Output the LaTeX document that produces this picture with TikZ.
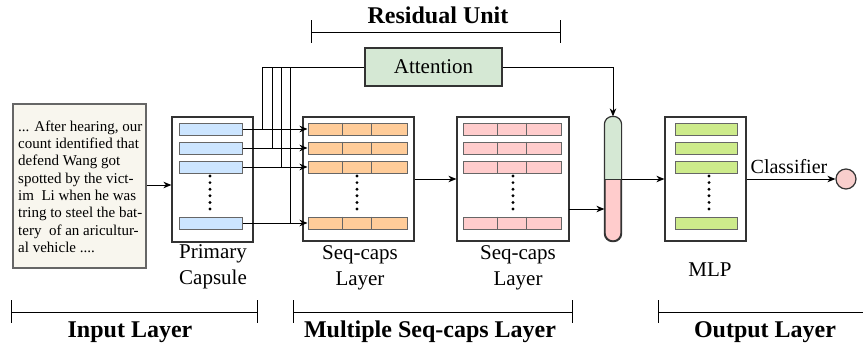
\documentclass[tikz,border=0pt]{standalone}
\usepackage{fontspec}
\setmainfont{LiberationSerif}[Extension=.ttf,UprightFont=*-Regular,BoldFont=*-Bold,ItalicFont=*-Italic,BoldItalicFont=*-BoldItalic]
\usetikzlibrary{arrows.meta,calc}
\definecolor{beigeC}{HTML}{F8F6EE}
\definecolor{blueC}{HTML}{CCE5FF}
\definecolor{orangeC}{HTML}{FFCC99}
\definecolor{pinkC}{HTML}{FFCCCC}
\definecolor{limeC}{HTML}{CDEB8B}
\definecolor{attC}{HTML}{D5E8D4}
\definecolor{dotC}{HTML}{F8CECC}
\definecolor{frameC}{HTML}{333333}
\definecolor{barC}{HTML}{666666}
\begin{document}
\begin{tikzpicture}[x=1pt,y=-1pt,
  conn/.style={line width=1pt, draw=black},
  arr/.style={conn, -{Stealth[length=8pt,width=6.5pt,inset=2.5pt]}},
  framebox/.style={draw=frameC, line width=1.2pt, fill=white, inner sep=0, minimum height=124pt},
  barbase/.style={draw=barC, line width=1pt, inner sep=0, minimum height=12pt},
  pbar/.style={barbase, fill=blueC, minimum width=63pt},
  obar/.style={barbase, fill=orangeC, minimum width=99pt},
  rbar/.style={barbase, fill=pinkC, minimum width=98pt},
  gbar/.style={barbase, fill=limeC, minimum width=62pt},
  cellline/.style={draw=barC, line width=1pt},
  lbl/.style={font=\fontsize{21}{26}\selectfont, inner sep=0, align=center},
  bold/.style={font=\fontsize{24}{28}\selectfont\bfseries, inner sep=0},
  dotcol/.style={fill=black}
]
\useasboundingbox (0,0) rectangle (863,346);

% ---------- input text box ----------
\node[draw=barC, line width=1.2pt, fill=beigeC, minimum width=133pt, minimum height=164pt, inner sep=0] (inbox) at (79.5,186) {};
\node[anchor=north west, inner sep=0, align=left, font=\fontsize{15}{17.3}\selectfont] (intext) at (18,120.5)
 {... After hearing, our\\count identified that\\defend Wang got\\spotted by the vict-\\im~ Li when he was\\tring to steel the bat-\\tery~ of an aricultur-\\al vehicle ....};

% ---------- primary capsule ----------
\node[framebox, minimum width=81pt, minimum height=125pt] (pc) at (212.5,179.5) {};
\node[pbar] (p1) at (210.5,129) {};
\node[pbar] (p2) at (210.5,148) {};
\node[pbar] (p3) at (210.5,167) {};
\node[pbar] (p4) at (210.5,223) {};
\foreach \k in {0,...,5} \fill[dotcol] (210,{176+6.6*\k}) circle[radius=1.6pt];
\node[lbl, anchor=north] (pclbl) at (213,244) {Primary\\Capsule};

% ---------- seq-caps layer 1 ----------
\node[framebox, minimum width=111pt] (sq1) at (358.5,179) {};
\node[obar] (s1) at (357.5,129) {};
\node[obar] (s2) at (357.5,148) {};
\node[obar] (s3) at (357.5,167) {};
\node[obar] (s4) at (357.5,223) {};
\foreach \k in {0,...,5} \fill[dotcol] (357,{176+6.6*\k}) circle[radius=1.6pt];
\node[lbl, anchor=north] (sq1lbl) at (360,245) {Seq-caps\\Layer};

% ---------- seq-caps layer 2 ----------
\node[framebox, minimum width=112pt] (sq2) at (513,179) {};
\node[rbar] (t1) at (512,129) {};
\node[rbar] (t2) at (512,148) {};
\node[rbar] (t3) at (512,167) {};
\node[rbar] (t4) at (512,223) {};
\foreach \k in {0,...,5} \fill[dotcol] (513,{176+6.6*\k}) circle[radius=1.6pt];
\node[lbl, anchor=north] (sq2lbl) at (518,245) {Seq-caps\\Layer};

\foreach \b in {s1,s2,s3,s4,t1,t2,t3,t4}{
  \draw[cellline] ($(\b.north west)+(35,0)$) -- ($(\b.south west)+(35,0)$);
  \draw[cellline] ($(\b.north west)+(64,0)$) -- ($(\b.south west)+(64,0)$);
}

% ---------- capsule (concat) ----------
\node[draw=frameC, line width=1.2pt, fill=pinkC, rounded corners=8pt, minimum width=16pt, minimum height=124pt, inner sep=0] (cap) at (613,179) {};
\begin{scope}
  \clip ($(cap.north west)+(-2,-2)$) rectangle (cap.east);
  \fill[attC, rounded corners=8pt] (cap.south west) rectangle (cap.north east);
\end{scope}
\draw[draw=frameC, line width=1.2pt, rounded corners=8pt] (cap.south west) rectangle (cap.north east);
\draw[draw=frameC, line width=1pt] (cap.west) -- (cap.east);

% ---------- MLP ----------
\node[framebox, minimum width=81pt] (mlp) at (705.5,179) {};
\node[gbar] (g1) at (706,129) {};
\node[gbar] (g2) at (706,148) {};
\node[gbar] (g3) at (706,167) {};
\node[gbar] (g4) at (706,223) {};
\foreach \k in {0,...,5} \fill[dotcol] (709,{176+6.6*\k}) circle[radius=1.6pt];
\node[lbl, anchor=base] (mlplbl) at (710,276) {MLP};

\node[circle, draw=frameC, line width=1.2pt, fill=dotC, minimum size=20pt, inner sep=0] (out) at (846,179) {};

% ---------- attention ----------
\node[draw=frameC, line width=1.2pt, fill=attC, minimum width=137pt, minimum height=38pt, inner sep=0, font=\fontsize{21}{26}\selectfont] (att) at (433.5,67) {Attention};

% ---------- connectors ----------
\draw[arr] (inbox.east |- 0,185) -- (pc.west |- 0,185);
\draw[arr] (p1.east) -- (s1.west);
\draw[arr] (p2.east) -- (s2.west);
\draw[arr] (p3.east) -- (s3.west);
\draw[arr] (p4.east) -- (s4.west);
\coordinate (j1) at (262,129);
\coordinate (j2) at (272,148);
\coordinate (j3) at (281,167);
\coordinate (j4) at (290,223);
\draw[conn] (j1) |- (att.west);
\draw[conn] (j2) |- (att.west);
\draw[conn] (j3) |- (att.west);
\draw[conn] (j4) |- (att.west);
\draw[arr] (att.east) -| (cap.north);
\draw[arr] (sq1.east) -- (sq2.west);
\coordinate (q2out) at (569,209);
\draw[arr] (q2out) -- (q2out -| cap.west);
\draw[arr] (cap.east) -- (mlp.west);
\draw[arr] (mlp.east) -- (out.west);
\node[font=\fontsize{20}{24}\selectfont, inner sep=0, anchor=base] (clslbl) at (789,173) {Classifier};

% ---------- brackets ----------
\coordinate (ruL) at (311,32); \coordinate (ruR) at (560,32);
\draw[conn] (ruL) -- (ruR);
\draw[conn] ($(ruL)+(0,-12)$) -- ($(ruL)+(0,11)$);
\draw[conn] ($(ruR)+(0,-12)$) -- ($(ruR)+(0,11)$);
\node[bold, anchor=base] (rulbl) at (438,23) {Residual Unit};

\coordinate (ilL) at (11,312); \coordinate (ilR) at (257,312);
\draw[conn] (ilL) -- (ilR);
\draw[conn] ($(ilL)+(0,-12)$) -- ($(ilL)+(0,11)$);
\draw[conn] ($(ilR)+(0,-12)$) -- ($(ilR)+(0,11)$);
\node[bold, anchor=base] (illbl) at (130,337) {Input Layer};

\coordinate (mlL) at (293,312); \coordinate (mlR) at (572,312);
\draw[conn] (mlL) -- (mlR);
\draw[conn] ($(mlL)+(0,-12)$) -- ($(mlL)+(0,11)$);
\draw[conn] ($(mlR)+(0,-12)$) -- ($(mlR)+(0,11)$);
\node[bold, anchor=base] (mllbl) at (430,337) {Multiple Seq-caps Layer};

\coordinate (olL) at (658,312); \coordinate (olR) at (863,312);
\draw[conn] (olL) -- (olR);
\draw[conn] ($(olL)+(0,-12)$) -- ($(olL)+(0,11)$);
\node[bold, anchor=base] (ollbl) at (765,337) {Output Layer};
\end{tikzpicture}
\end{document}
